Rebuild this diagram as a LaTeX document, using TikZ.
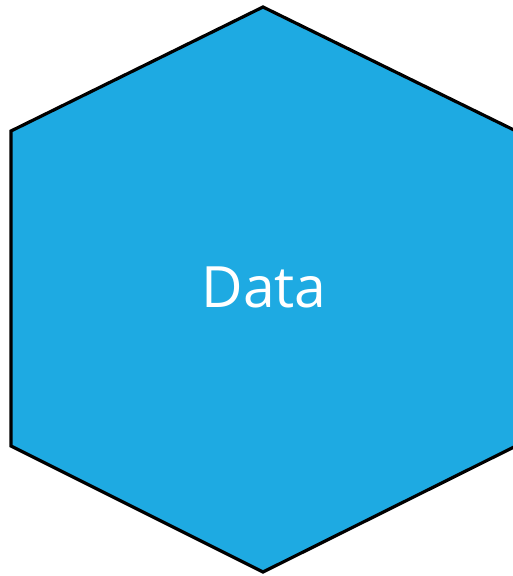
\documentclass[tikz,border=0pt]{standalone}
\usepackage{fontspec}
\setsansfont{Open Sans}
\definecolor{hexblue}{HTML}{1EAAE2}
\begin{document}
\begin{tikzpicture}[x=1pt,y=-1pt]
	\useasboundingbox (0,0) rectangle (512,576);
	% hexagon
	\draw[fill=hexblue, line width=3.2pt, line join=miter]
		(263,7) -- (516,131) -- (516,446) -- (263,572) -- (11,446) -- (11,131) -- cycle;
	% label
	\node[text=white, font=\sffamily\fontsize{57}{62}\selectfont] (data) at (264,287) {Data};
\end{tikzpicture}
\end{document}
